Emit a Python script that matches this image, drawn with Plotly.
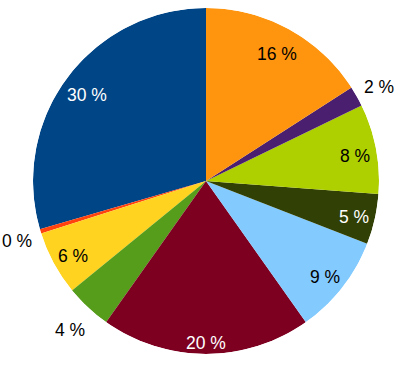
import math
import plotly.graph_objects as go

# Slices in counterclockwise order starting at 12 o'clock
shares = [29.5, 0.4, 6.0, 4.3, 19.6, 9.3, 4.7, 8.4, 1.9, 15.9]
colors = ["#004586", "#ff420e", "#ffd320", "#579d1c", "#7e0021",
          "#83caff", "#314004", "#aecf00", "#4b1f6f", "#ff950e"]
label_colors = ["white", "black", "black", "black", "white",
                "black", "white", "black", "black", "black"]
label_radius = [0.86, 1.14, 0.875, 1.155, 0.92, 0.87, 0.875, 0.875, 1.145, 0.855]

total = sum(shares)
labels = [f"{round(v / total * 100)} %" for v in shares]

widths = [v / total * 360 for v in shares]
mids = []
cum = 0.0
for w in widths:
    mids.append(cum + w / 2)
    cum += w

# geometry of the page / pie (pixels)
W, H = 397, 372
cx, cy, R = 206, 181, 173

FONT = "Liberation Sans, Arial, sans-serif"

fig = go.Figure()
fig.add_trace(go.Barpolar(
    r=[1] * len(shares),
    theta=mids,
    width=widths,
    marker=dict(color=colors, line=dict(width=0)),
    hoverinfo="skip",
    showlegend=False,
))
# invisible cartesian trace so the x/y axes exist for the labels
fig.add_trace(go.Scatter(x=[0], y=[0], mode="markers", marker=dict(opacity=0),
                         hoverinfo="skip", showlegend=False))

for i, lab in enumerate(labels):
    a = math.radians(mids[i])
    fig.add_annotation(
        x=-label_radius[i] * math.sin(a),
        y=label_radius[i] * math.cos(a),
        xref="x", yref="y",
        text=lab,
        showarrow=False,
        yshift=-3,
        font=dict(family=FONT, size=17.5, color=label_colors[i]),
    )

fig.update_layout(
    width=W, height=H,
    margin=dict(l=0, r=0, t=0, b=0),
    paper_bgcolor="white",
    plot_bgcolor="rgba(0,0,0,0)",
    xaxis=dict(range=[-cx / R, (W - cx) / R], visible=False, fixedrange=True),
    yaxis=dict(range=[-(H - cy) / R, cy / R], visible=False, fixedrange=True),
    polar=dict(
        domain=dict(x=[(cx - R) / W, (cx + R) / W], y=[(H - cy - R) / H, (H - cy + R) / H]),
        bgcolor="rgba(0,0,0,0)",
        hole=0,
        radialaxis=dict(range=[0, 1], visible=False, showgrid=False),
        angularaxis=dict(rotation=90, direction="counterclockwise", visible=False,
                         showgrid=False),
        bargap=0,
    ),
)
fig.write_html("out.html")
